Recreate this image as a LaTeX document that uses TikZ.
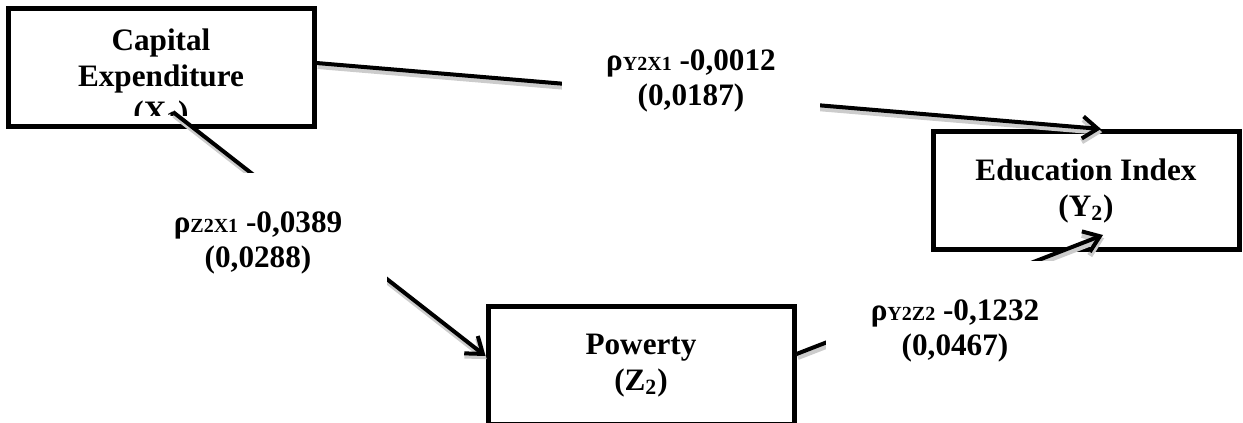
\documentclass[tikz,border=0pt]{standalone}
\usepackage{fontspec}
\setmainfont{Liberation Serif}
\usetikzlibrary{positioning,arrows.meta}
\newcommand{\coefsub}[1]{{\fontsize{10}{12}\selectfont #1}}

\begin{document}
\begin{tikzpicture}[
  font=\bfseries\fontsize{15.6}{18}\selectfont,
  box/.style={draw=black, line width=2.5pt, fill=white, align=center, minimum width=153pt, minimum height=59pt, inner sep=0pt},
  arr/.style={-{Straight Barb[length=7.5pt,width=11pt]}, line width=2pt,
    preaction={draw=black!20, line width=2.8pt, transform canvas={shift={(0.6pt,-1.6pt)}}}},
  coef/.style={fill=white, align=center, minimum width=129pt, minimum height=70pt, inner sep=0pt,
    font=\bfseries\fontsize{15.6}{17.5}\selectfont}
]
\useasboundingbox (0,0) rectangle (621.5pt,-211.5pt);

\node[box] (cap) at (80.5pt,-33.75pt) {};
\node[box, below right=0pt and 307pt of cap.south east] (edu) {Education Index\\(Y\textsubscript{2})};
\node[box, below right=87.5pt and 84.5pt of cap.south east] (pov) {Powerty\\(Z\textsubscript{2})};

% text of the first box runs past its bottom margin
\begin{scope}
  \clip ([xshift=2pt,yshift=-2pt]cap.north west) rectangle ([xshift=-2pt,yshift=7pt]cap.south east);
  \node[align=center] (captxt) at ([yshift=-5.5pt]cap.center) {Capital\\Expenditure\\(X\textsubscript{1})};
\end{scope}

\draw[arr] ([yshift=2.25pt]cap.east) -- ([xshift=7.5pt]edu.north);
\draw[arr] ([xshift=6pt,yshift=8.5pt]cap.south) -- ([yshift=4.75pt]pov.west);
\draw[arr] ([yshift=5.75pt]pov.east) -- ([xshift=8.5pt,yshift=8.5pt]edu.south);

\node[coef] (yx) at (345.5pt,-40.5pt) {ρ\coefsub{Y2X1} -0,0012\\(0,0187)};
\node[coef] (zx) at (129pt,-121.5pt) {ρ\coefsub{Z2X1} -0,0389\\(0,0288)};
\node[coef] (yz) at (477.5pt,-165.5pt) {ρ\coefsub{Y2Z2} -0,1232\\(0,0467)};
\end{tikzpicture}
\end{document}
